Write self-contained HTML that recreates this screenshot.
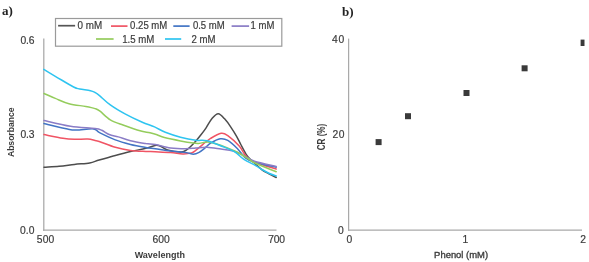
<!DOCTYPE html>
<html><head><meta charset="utf-8">
<style>
html,body{margin:0;padding:0;background:#fff;}
body{width:589px;height:262px;overflow:hidden;position:relative;}
svg{position:absolute;left:0;top:0;will-change:transform;}
text{font-family:"Liberation Sans",sans-serif;fill:#3c3c3c;}
</style></head><body>
<svg width="589" height="262" viewBox="0 0 589 262">
<text x="2" y="15" style="font-family:'Liberation Serif',serif;font-weight:bold;font-size:13px;fill:#222">a)</text>
<text x="342" y="16" style="font-family:'Liberation Serif',serif;font-weight:bold;font-size:13px;fill:#222">b)</text>
<!-- left axes -->
<g stroke="#a9a9a9" stroke-width="1.25" fill="none">
<line x1="43.8" y1="38.6" x2="43.8" y2="230.7"/>
<line x1="43" y1="230" x2="276.5" y2="230"/>
<line x1="348.6" y1="38.6" x2="348.6" y2="230.7"/>
<line x1="348" y1="230" x2="582" y2="230"/>
</g>
<g font-size="10.3" stroke="#3c3c3c" stroke-width="0.2" lengthAdjust="spacingAndGlyphs">
<text x="20.4" y="43.6" textLength="14">0.6</text>
<text x="20.4" y="138.1" textLength="14">0.3</text>
<text x="20" y="234.1" textLength="14.4">0.0</text>
<text x="36.8" y="242.9" textLength="17.4">500</text>
<text x="152.6" y="242.9" textLength="17.1">600</text>
<text x="268.3" y="243" textLength="16.6">700</text>
<text x="332.1" y="42.5" textLength="12.1">40</text>
<text x="332.4" y="138.1" textLength="12">20</text>
<text x="337.9" y="234.1" textLength="6.2">0</text>
<text x="346.6" y="242.9" textLength="6.8">0</text>
<text x="462.6" y="242.9" textLength="6">1</text>
<text x="580.2" y="242.9" textLength="6.2">2</text>
</g>
<text x="159.8" y="258" font-size="9" font-weight="bold" text-anchor="middle">Wavelength</text>
<text x="461.1" y="257.6" font-size="9.6" stroke="#3c3c3c" stroke-width="0.35" text-anchor="middle" textLength="54" lengthAdjust="spacingAndGlyphs">Phenol (mM)</text>
<text transform="translate(13.6,132.3) rotate(-90)" font-size="9.6" font-weight="bold" text-anchor="middle" textLength="49.5" lengthAdjust="spacingAndGlyphs">Absorbance</text>
<text transform="translate(325.3,137) rotate(-90)" font-size="10" font-weight="bold" text-anchor="middle" textLength="26.5" lengthAdjust="spacingAndGlyphs">CR (%)</text>
<!-- legend -->
<rect x="55.5" y="18.5" width="226.3" height="27.7" fill="none" stroke="#9a9a9a" stroke-width="1.2"/>
<g stroke-width="1.7" fill="none">
<line x1="58.1" y1="25.7" x2="75.1" y2="25.7" stroke="#555"/>
<line x1="111" y1="26.1" x2="127.5" y2="26.1" stroke="#f05464"/>
<line x1="173.3" y1="26.1" x2="189.6" y2="26.1" stroke="#4274c4"/>
<line x1="231.6" y1="26.1" x2="249.1" y2="26.1" stroke="#8a7cc6"/>
<line x1="96" y1="39" x2="113.6" y2="39" stroke="#94cc5c"/>
<line x1="165" y1="39" x2="181.2" y2="39" stroke="#2ec4f0"/>
</g>
<g font-size="10" stroke="#3c3c3c" stroke-width="0.2">
<text x="77.6" y="28.6" textLength="24.6" lengthAdjust="spacingAndGlyphs">0 mM</text>
<text x="130.1" y="29.0" textLength="37.2" lengthAdjust="spacingAndGlyphs">0.25 mM</text>
<text x="192.9" y="29.0" textLength="31.8" lengthAdjust="spacingAndGlyphs">0.5 mM</text>
<text x="250.6" y="29.0" textLength="23.8" lengthAdjust="spacingAndGlyphs">1 mM</text>
<text x="122.2" y="42.6" textLength="32.2" lengthAdjust="spacingAndGlyphs">1.5 mM</text>
<text x="191.4" y="42.6" textLength="24" lengthAdjust="spacingAndGlyphs">2 mM</text>
</g>
<g fill="none" stroke-width="1.5" stroke-linejoin="round" stroke-linecap="round">
<path d="M44.0,167.2 C46.5,167.0 54.0,166.8 59.1,166.3 C64.2,165.8 69.3,165.0 74.4,164.4 C79.5,163.8 85.6,163.6 89.7,162.9 C93.8,162.2 94.9,161.2 99.2,160.0 C103.5,158.8 110.1,156.9 115.3,155.5 C120.5,154.1 125.4,152.8 130.5,151.6 C135.6,150.4 141.7,149.3 145.8,148.3 C149.9,147.3 152.6,145.9 155.0,145.5 C157.4,145.1 157.9,145.2 160.0,146.0 C162.1,146.8 164.0,149.0 167.5,150.0 C171.0,151.0 177.9,152.1 181.2,152.0 C184.5,151.9 185.3,150.7 187.3,149.3 C189.3,147.9 191.3,145.9 193.4,143.7 C195.5,141.5 197.9,138.7 200.0,136.0 C202.1,133.3 204.1,130.8 206.1,127.8 C208.1,124.8 210.2,120.5 212.2,118.2 C214.2,115.9 216.3,113.6 218.3,113.7 C220.3,113.8 222.4,116.4 224.4,118.6 C226.4,120.8 228.5,123.6 230.5,126.6 C232.5,129.6 234.9,133.3 236.6,136.3 C238.3,139.3 239.2,141.5 240.8,144.5 C242.4,147.5 244.5,151.7 246.0,154.1 C247.5,156.5 248.3,157.3 250.0,159.0 C251.7,160.7 254.0,162.7 256.0,164.5 C258.0,166.3 259.9,168.2 262.0,169.8 C264.1,171.4 266.5,172.5 268.9,173.8 C271.3,175.1 275.0,176.9 276.2,177.5" stroke="#4d4d4d"/>
<path d="M44.0,134.6 C47.1,135.2 57.8,137.5 62.9,138.3 C68.0,139.1 70.2,139.2 74.4,139.3 C78.6,139.4 84.4,138.9 87.8,139.1 C91.2,139.3 93.1,140.1 95.0,140.5 C96.9,140.9 95.8,140.4 99.2,141.5 C102.6,142.6 110.1,145.8 115.3,147.3 C120.5,148.8 125.4,149.7 130.5,150.4 C135.6,151.1 141.7,151.2 145.8,151.4 C149.9,151.6 151.2,151.6 155.3,151.8 C159.4,152.0 165.9,152.2 170.5,152.6 C175.1,152.9 179.2,153.8 182.7,153.9 C186.2,154.0 189.3,153.5 191.5,152.9 C193.7,152.3 194.1,151.6 196.0,150.2 C197.9,148.8 200.5,146.4 202.9,144.4 C205.3,142.4 207.6,140.2 210.6,138.4 C213.6,136.6 218.2,133.8 221.1,133.3 C224.0,132.8 224.8,133.5 227.8,135.6 C230.8,137.7 236.2,142.7 239.2,146.1 C242.2,149.5 243.6,153.4 246.0,156.0 C248.4,158.6 248.6,159.5 253.6,161.7 C258.6,163.9 272.4,167.8 276.2,169.0" stroke="#f05464"/>
<path d="M44.0,123.5 C47.9,124.4 62.1,127.9 67.5,129.0 C72.9,130.1 72.2,130.0 76.5,130.0 C80.8,130.0 89.7,128.5 93.5,128.9 C97.3,129.3 95.9,130.8 99.5,132.6 C103.1,134.4 110.1,137.9 115.3,139.9 C120.5,141.9 125.4,143.2 130.5,144.5 C135.6,145.8 141.7,146.8 145.8,147.5 C149.9,148.2 151.2,148.2 155.3,148.8 C159.4,149.4 165.4,150.5 170.5,151.1 C175.6,151.7 182.0,152.1 185.8,152.6 C189.6,153.1 191.2,154.2 193.4,154.2 C195.6,154.1 197.2,153.3 199.1,152.3 C201.0,151.3 202.9,149.7 204.8,148.2 C206.7,146.7 208.0,144.8 210.6,143.2 C213.2,141.6 217.4,139.3 220.3,138.8 C223.2,138.3 225.0,138.8 227.8,140.4 C230.6,142.0 234.4,145.6 237.3,148.5 C240.2,151.4 242.5,155.6 245.4,157.9 C248.3,160.2 249.4,160.8 254.5,162.3 C259.6,163.9 272.6,166.4 276.2,167.2" stroke="#4274c4"/>
<path d="M44.0,120.5 C48.4,121.5 62.0,125.0 70.5,126.3 C79.0,127.6 89.8,127.9 95.0,128.6 C100.2,129.3 99.4,129.3 101.8,130.3 C104.2,131.3 106.5,133.4 109.2,134.5 C112.0,135.6 114.8,135.9 118.3,136.9 C121.8,137.9 125.9,139.6 130.5,140.7 C135.1,141.8 141.7,142.9 145.8,143.6 C149.9,144.2 151.2,143.9 155.3,144.6 C159.4,145.3 165.4,147.3 170.5,148.0 C175.6,148.7 181.6,148.8 185.8,148.8 C190.0,148.8 192.2,148.3 195.8,148.0 C199.4,147.7 203.0,147.0 207.2,147.2 C211.4,147.4 216.7,148.4 221.0,149.0 C225.3,149.6 229.4,149.9 233.2,151.0 C237.0,152.1 240.3,153.9 243.9,155.6 C247.5,157.3 249.1,159.5 254.5,161.3 C259.9,163.1 272.6,165.6 276.2,166.5" stroke="#8a7cc6"/>
<path d="M44.0,93.5 C45.9,94.3 51.1,96.7 55.3,98.4 C59.5,100.1 63.9,102.4 69.0,103.7 C74.1,105.0 81.5,105.7 85.8,106.5 C90.1,107.3 92.6,107.8 95.0,108.6 C97.4,109.4 97.5,109.3 100.0,111.2 C102.5,113.1 106.5,117.5 110.3,119.8 C114.1,122.1 118.0,123.2 123.0,125.0 C128.0,126.8 135.5,129.5 140.0,130.8 C144.5,132.1 147.2,132.1 150.0,132.8 C152.8,133.5 154.6,134.0 157.0,134.8 C159.4,135.6 160.5,136.6 164.4,137.6 C168.3,138.6 174.9,139.9 180.5,140.9 C186.1,141.9 193.0,143.2 198.0,143.4 C203.0,143.6 204.2,140.9 210.3,142.2 C216.4,143.5 228.1,148.1 234.7,151.0 C241.3,153.9 246.5,157.8 249.8,159.8 C253.1,161.8 250.1,160.8 254.5,162.8 C258.9,164.8 272.6,170.3 276.2,171.8" stroke="#94cc5c"/>
<path d="M43.8,69.4 C45.7,70.6 50.3,73.4 55.3,76.3 C60.3,79.2 69.5,84.9 73.6,87.0 C77.7,89.1 76.9,88.3 79.7,88.9 C82.5,89.5 87.9,90.1 90.4,90.7 C93.0,91.3 93.5,91.7 95.0,92.5 C96.5,93.3 97.0,93.5 99.5,95.6 C102.0,97.7 106.0,101.8 110.3,104.9 C114.6,108.0 120.2,111.3 125.5,114.2 C130.8,117.1 137.5,120.2 142.3,122.3 C147.1,124.4 150.7,125.2 154.5,126.9 C158.3,128.6 161.0,130.6 165.3,132.3 C169.6,134.0 175.4,135.9 180.5,137.2 C185.6,138.5 191.4,139.6 195.8,140.2 C200.2,140.8 202.8,139.8 207.2,140.8 C211.6,141.9 217.9,144.7 222.5,146.5 C227.1,148.3 231.1,149.7 234.7,151.8 C238.3,154.0 240.4,157.1 243.9,159.4 C247.4,161.7 252.6,163.9 255.6,165.6 C258.6,167.3 259.8,168.2 262.0,169.5 C264.2,170.8 266.5,172.1 268.9,173.2 C271.3,174.3 275.0,175.5 276.2,176.0" stroke="#2ec4f0"/>

</g>
<rect x="375.6" y="139.1" width="6" height="6" fill="#3a3a3a"/>
<rect x="405.0" y="113.2" width="6" height="6" fill="#3a3a3a"/>
<rect x="463.5" y="90.0" width="6" height="6" fill="#3a3a3a"/>
<rect x="521.6" y="65.3" width="6" height="6" fill="#3a3a3a"/>
<rect x="580.6" y="39.6" width="3.9" height="6.4" fill="#3a3a3a"/>

</svg>
</body></html>
